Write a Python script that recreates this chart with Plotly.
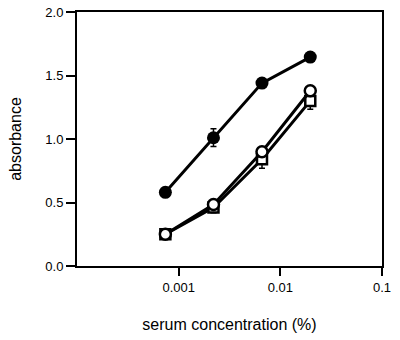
import plotly.graph_objects as go

conc = [0.00074, 0.0022, 0.0066, 0.0197]
filled_circle = [0.58, 1.01, 1.44, 1.645]
filled_circle_err = [0.0, 0.07, 0.0, 0.0]
open_square = [0.25, 0.46, 0.84, 1.30]
open_square_err = [0.0, 0.04, 0.07, 0.065]
open_circle = [0.25, 0.485, 0.90, 1.38]
open_circle_err = [0.0, 0.0, 0.0, 0.0]

x_ticks = [0.001, 0.01, 0.1]
x_ticktext = ["0.001", "0.01", "0.1"]
y_ticks = [0.0, 0.5, 1.0, 1.5, 2.0]

fig = go.Figure()

fig.add_trace(go.Scatter(
    x=conc, y=filled_circle, mode="lines+markers",
    line=dict(color="black", width=3),
    marker=dict(symbol="circle", size=13, color="black"),
    error_y=dict(type="data", array=filled_circle_err, color="black", thickness=1.5, width=3),
))
fig.add_trace(go.Scatter(
    x=conc, y=open_square, mode="lines+markers",
    line=dict(color="black", width=3),
    marker=dict(symbol="square", size=10, color="white", line=dict(color="black", width=2.5)),
    error_y=dict(type="data", array=open_square_err, color="black", thickness=1.5, width=3),
))
fig.add_trace(go.Scatter(
    x=conc, y=open_circle, mode="lines+markers",
    line=dict(color="black", width=3),
    marker=dict(symbol="circle", size=11, color="white", line=dict(color="black", width=2.5)),
    error_y=dict(type="data", array=open_circle_err, color="black", thickness=1.5, width=3),
))

fig.update_layout(
    width=400, height=340,
    margin=dict(l=77, r=18, t=12, b=74),
    paper_bgcolor="white", plot_bgcolor="white",
    showlegend=False,
    font=dict(family="Liberation Sans, Arial, sans-serif", color="black", size=13),
)
fig.update_xaxes(
    type="log", range=[-4, -1],
    tickvals=x_ticks, ticktext=x_ticktext,
    ticks="outside", ticklen=8, tickwidth=2, tickcolor="black",
    showline=True, linecolor="black", linewidth=2, mirror=True,
    showgrid=False, zeroline=False, automargin=False,
    tickfont=dict(size=13),
    title=dict(text="serum concentration (%)", font=dict(size=16), standoff=25),
)
fig.update_yaxes(
    range=[0, 2], tickvals=y_ticks, tickformat=".1f",
    ticks="outside", ticklen=9, tickwidth=2, tickcolor="black",
    showline=True, linecolor="black", linewidth=2, mirror=True,
    showgrid=False, zeroline=False, automargin=False,
    tickfont=dict(size=13),
    title=dict(text="absorbance", font=dict(size=16), standoff=20),
)

fig.write_html("out.html")
